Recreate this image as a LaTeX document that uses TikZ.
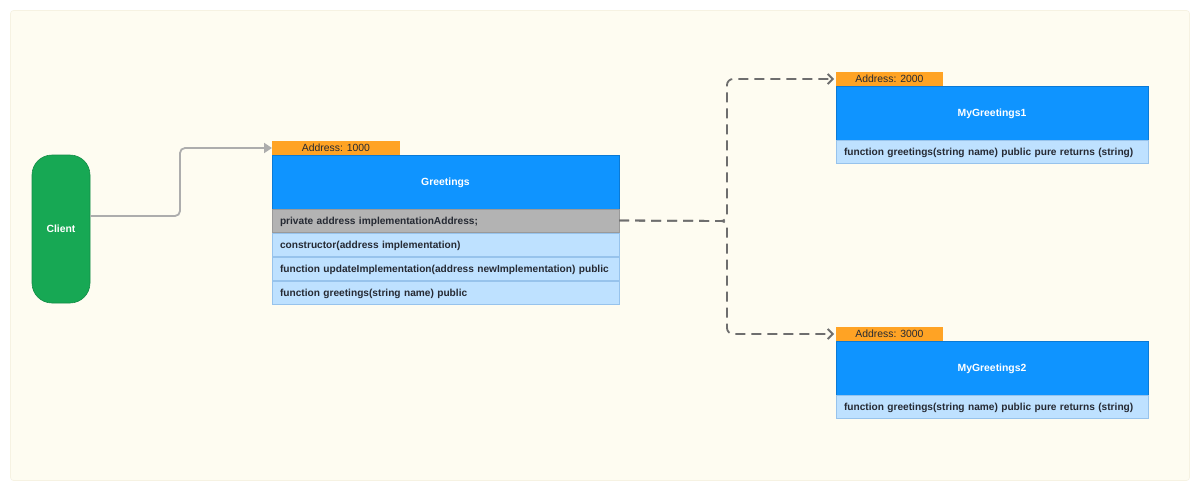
\documentclass[tikz,border=0pt]{standalone}
\usepackage{fontspec}
\setmainfont{Liberation Sans}
\usetikzlibrary{arrows.meta}
\definecolor{panelbg}{HTML}{FEFCF1}
\definecolor{panelline}{HTML}{F6F2E2}
\definecolor{clientgreen}{HTML}{17A854}
\definecolor{clientline}{HTML}{138C46}
\definecolor{hdrblue}{HTML}{0F94FF}
\definecolor{hdrline}{HTML}{0A7AD6}
\definecolor{rowblue}{HTML}{BEE1FF}
\definecolor{rowline}{HTML}{97C3EC}
\definecolor{rowgray}{HTML}{B3B3B3}
\definecolor{rowgrayline}{HTML}{9A9A9A}
\definecolor{tabor}{HTML}{FFA324}
\definecolor{txtdark}{HTML}{262A33}
\definecolor{linkgray}{HTML}{ADADAD}
\definecolor{dashgray}{HTML}{6E6E6E}
\tikzset{
  tabbox/.style={anchor=north west, fill=tabor, draw=none, minimum width=128pt, minimum height=14pt, inner sep=0pt, outer sep=0pt, text height=7.3pt, text depth=0pt, font=\fontsize{10.4}{11}\selectfont, text=txtdark},
  hdrbox/.style={anchor=north west, fill=hdrblue, draw=hdrline, line width=0.6pt, minimum height=54pt, inner sep=0pt, outer sep=0pt, text height=7pt, text depth=0pt, font=\bfseries\fontsize{10.4}{11}\selectfont, text=white},
  rowbox/.style={anchor=north west, fill=rowblue, draw=rowline, line width=0.6pt, minimum height=23pt, inner xsep=8pt, inner ysep=0pt, outer sep=0pt, text height=7pt, text depth=0pt, align=left, font=\bfseries\fontsize{10.15}{11}\selectfont, text=txtdark},
  grayrow/.style={rowbox, fill=rowgray, draw=rowgrayline},
  clientbox/.style={fill=clientgreen, draw=clientline, line width=0.6pt, rounded corners=20pt, minimum width=58pt, minimum height=148pt, inner sep=0pt, text height=7pt, text depth=0pt, font=\bfseries\fontsize{10.4}{11}\selectfont, text=white},
  solidlink/.style={draw=linkgray, line width=1.8pt, rounded corners=5pt, -{Triangle[length=8pt,width=10pt]}},
  dashlink/.style={draw=dashgray, line width=1.8pt, dash pattern=on 10pt off 6pt, rounded corners=6pt, -{Straight Barb[length=5pt,width=10pt,line width=1.8pt]}}
}
\begin{document}
\begin{tikzpicture}[x=1pt,y=-1pt]
\useasboundingbox (0,0) rectangle (1200,491);
\fill[white] (0,0) rectangle (1200,491);
\draw[fill=panelbg, draw=panelline, line width=0.6pt, rounded corners=3pt] (10.5,10.5) rectangle (1189.5,480.5);

% Client
\node[clientbox] (client) at (61,229) {Client};

% Greetings
\node[tabbox] (tab0) at (272,141) {Address: 1000};
\node[hdrbox, minimum width=347pt] (greet) at (272,155) {Greetings};
\node[grayrow, text width=331pt] (g1) at (272,209) {private address implementationAddress;};
\node[rowbox, text width=331pt] (g2) at (272,233) {constructor(address implementation)};
\node[rowbox, text width=331pt] (g3) at (272,257) {function updateImplementation(address newImplementation) public};
\node[rowbox, text width=331pt] (g4) at (272,281) {function greetings(string name) public};

% MyGreetings1
\node[tabbox, minimum width=107pt] (tab1) at (836,72) {Address: 2000};
\node[hdrbox, minimum width=312pt] (my1) at (836,86) {MyGreetings1};
\node[rowbox, text width=296pt] (m1) at (836,140) {function greetings(string name) public pure returns (string)};

% MyGreetings2
\node[tabbox, minimum width=107pt] (tab2) at (836,327) {Address: 3000};
\node[hdrbox, minimum width=312pt] (my2) at (836,341) {MyGreetings2};
\node[rowbox, text width=296pt] (m2) at (836,395) {function greetings(string name) public pure returns (string)};

% connectors
\coordinate (bend) at (727,221);
\draw[solidlink] (client.east |- 0,216) -- (180,216) -- (180,148) -- (tab0.west);
\draw[dashlink] (g1.east) -- (bend) -- (bend |- tab1.west) -- ([xshift=-2pt]tab1.west);
\draw[dashlink] (g1.east) -- (bend) -- (bend |- tab2.west) -- ([xshift=-2pt]tab2.west);
\end{tikzpicture}
\end{document}
